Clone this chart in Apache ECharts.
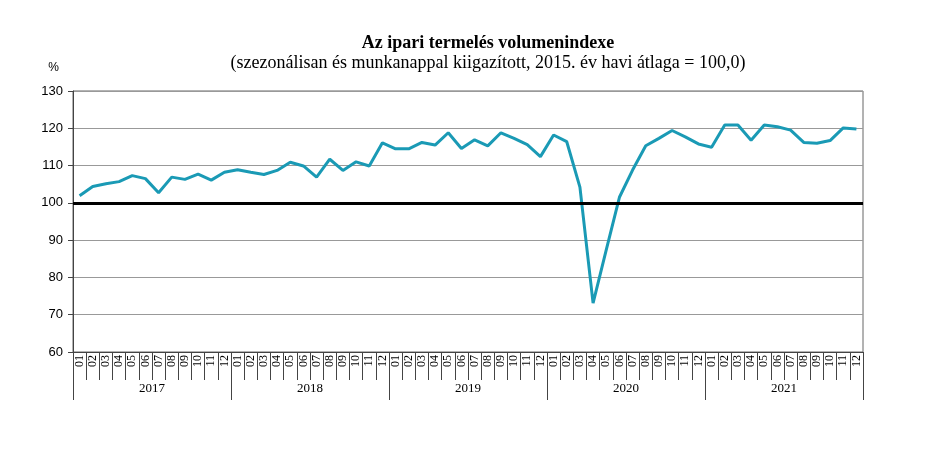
<!DOCTYPE html>
<html>
<head>
<meta charset="utf-8">
<script src="https://cdn.jsdelivr.net/npm/echarts@6/dist/echarts.min.js"></script>
<style>
  html, body { margin: 0; padding: 0; background: #fff; }
  #main { width: 934px; height: 456px; }
</style>
</head>
<body>
<div id="main"></div>
<script>
var years = ['2017', '2018', '2019', '2020', '2021'];
var monthNames = ['01', '02', '03', '04', '05', '06', '07', '08', '09', '10', '11', '12'];

// volumenindex, 2015 havi átlaga = 100
var v2017 = [101.9, 104.4, 105.1, 105.7, 107.3, 106.5, 102.7, 106.9, 106.3, 107.7, 106.1, 108.2];
var v2018 = [108.9, 108.2, 107.6, 108.7, 110.9, 109.9, 106.9, 111.7, 108.7, 111.0, 109.9, 116.1];
var v2019 = [114.5, 114.5, 116.2, 115.5, 118.8, 114.6, 116.9, 115.3, 118.8, 117.3, 115.6, 112.4];
var v2020 = [118.2, 116.4, 104.2, 73.1, 87.4, 101.5, 108.8, 115.3, 117.3, 119.4, 117.7, 115.8];
var v2021 = [114.9, 120.9, 120.9, 116.8, 120.9, 120.4, 119.5, 116.2, 116.0, 116.7, 120.1, 119.8];

var months = [];
for (var y = 0; y < years.length; y++) {
  for (var m = 0; m < 12; m++) months.push(years[y] + '-' + monthNames[m]);
}
var values = [].concat(v2017, v2018, v2019, v2020, v2021);

var chart = echarts.init(document.getElementById('main'));
var serif = '"Liberation Serif", "Times New Roman", serif';
var sans = '"Liberation Sans", Arial, sans-serif';

chart.setOption({
  animation: false,
  title: {
    text: 'Az ipari termelés volumenindexe',
    subtext: '(szezonálisan és munkanappal kiigazított, 2015. év havi átlaga = 100,0)',
    left: 483,
    textAlign: 'center',
    top: 29,
    itemGap: 2,
    textStyle: { fontFamily: serif, fontSize: 18, fontWeight: 'bold', color: '#000' },
    subtextStyle: { fontFamily: serif, fontSize: 18, color: '#000' }
  },
  grid: { left: 73, right: 71, top: 91, bottom: 104, show: true, borderColor: '#666', borderWidth: 1 },
  xAxis: [{
    type: 'category',
    data: months,
    boundaryGap: true,
    axisLine: { lineStyle: { color: '#444', width: 1 } },
    axisTick: { show: true, interval: 0, length: 28, lineStyle: { color: '#444' } },
    axisLabel: {
      interval: 0,
      rotate: 90,
      margin: 3,
      fontFamily: serif,
      fontSize: 12,
      color: '#000',
      formatter: function (v) { return v.split('-')[1]; }
    }
  }, {
    type: 'category',
    data: years,
    position: 'bottom',
    boundaryGap: true,
    axisLine: { show: false },
    axisTick: { show: true, interval: 0, length: 48, lineStyle: { color: '#444' } },
    axisLabel: { interval: 0, margin: 30, fontFamily: serif, fontSize: 13, color: '#000' },
    splitLine: { show: false }
  }],
  yAxis: {
    type: 'value',
    min: 60,
    max: 130,
    interval: 10,
    name: '%',
    nameLocation: 'end',
    nameGap: 17,
    nameTextStyle: { fontFamily: sans, fontSize: 12, color: '#000', align: 'right', padding: [0, 14, 0, 0] },
    axisLine: { show: true, lineStyle: { color: '#444' } },
    axisTick: { show: true, length: 5, inside: false, lineStyle: { color: '#444' } },
    axisLabel: { fontFamily: sans, fontSize: 13, color: '#000', margin: 10 },
    splitLine: { show: true, lineStyle: { color: '#999', width: 1 } }
  },
  series: [{
    type: 'line',
    data: values,
    symbol: 'none',
    lineStyle: { color: '#1a9ab5', width: 3 },
    itemStyle: { color: '#1a9ab5' },
    markLine: {
      silent: true,
      symbol: 'none',
      label: { show: false },
      lineStyle: { color: '#000', width: 3, type: 'solid' },
      data: [{ yAxis: 100 }]
    }
  }]
});
</script>
</body>
</html>
